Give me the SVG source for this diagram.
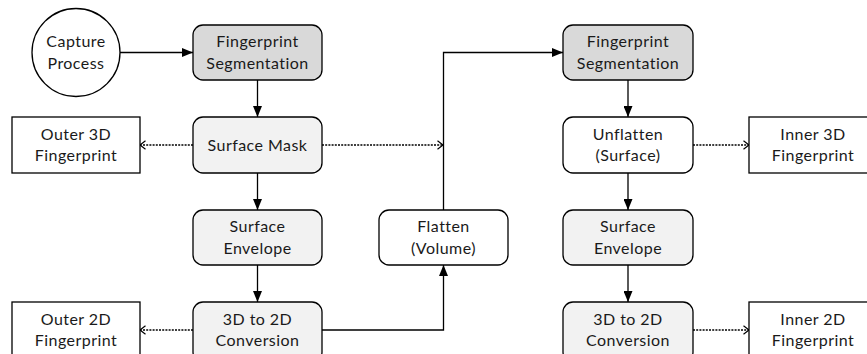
<svg xmlns="http://www.w3.org/2000/svg" width="867" height="354" viewBox="0 0 867 354">
<defs>
<style>
.n{stroke:#000;stroke-width:1.3}
.g{fill:#d9d9d9}
.l{fill:#f2f2f2}
.w{fill:#fff}
text{font-family:Lato,"Open Sans","Liberation Sans",sans-serif;font-size:16px;letter-spacing:0.45px;fill:#1a1a1a;text-anchor:middle}
.c{fill:none;stroke:#000;stroke-width:1.3}
.s{marker-end:url(#fa)}
.d{stroke-dasharray:2 1.2;marker-end:url(#oa)}
</style>
<marker id="fa" markerUnits="userSpaceOnUse" viewBox="0 0 11 9" refX="11" refY="4.5" markerWidth="11" markerHeight="9" orient="auto">
<path d="M0,0 L11,4.5 L0,9 z" fill="#000"/>
</marker>
<marker id="oa" markerUnits="userSpaceOnUse" viewBox="0 0 7 10" refX="6" refY="5" markerWidth="7" markerHeight="10" orient="auto">
<path d="M0.5,0.8 L6,5 L0.5,9.2" fill="none" stroke="#000" stroke-width="1.2"/>
</marker>
</defs>
<rect width="867" height="354" fill="#fff"/>
<g id="connectors">
<path class="c s" d="M119.5,52.5 H193"/>
<path class="c s" d="M257.5,80 V117"/>
<path class="c d" d="M193,145 H140"/>
<path class="c d" d="M322,145 H443"/>
<path class="c s" d="M257.5,173 V210"/>
<path class="c s" d="M257.5,265 V302"/>
<path class="c d" d="M193,330 H140"/>
<path class="c s" d="M322,330 H443.5 V265"/>
<path class="c s" d="M443.5,210 V52.5 H563"/>
<path class="c s" d="M628,80 V117"/>
<path class="c d" d="M693,145 H749"/>
<path class="c s" d="M628,173 V210"/>
<path class="c s" d="M628,265 V302"/>
<path class="c d" d="M693,330 H749"/>
</g>
<g id="capture">
<circle class="n w" cx="76" cy="52.5" r="44"/>
<text x="76" y="47">Capture</text>
<text x="76" y="68.5">Process</text>
</g>
<g id="seg1">
<rect class="n g" x="193" y="25" width="129" height="55" rx="10"/>
<text x="257.5" y="47">Fingerprint</text>
<text x="257.5" y="68.5">Segmentation</text>
</g>
<g id="outer3d">
<rect class="n w" x="12" y="117" width="128" height="56"/>
<text x="76" y="139.5">Outer 3D</text>
<text x="76" y="161">Fingerprint</text>
</g>
<g id="mask">
<rect class="n l" x="193" y="117" width="129" height="56" rx="10"/>
<text x="257.5" y="150.5">Surface Mask</text>
</g>
<g id="env1">
<rect class="n l" x="193" y="210" width="129" height="55" rx="10"/>
<text x="257.5" y="232">Surface</text>
<text x="257.5" y="253.5">Envelope</text>
</g>
<g id="outer2d">
<rect class="n w" x="12" y="302" width="128" height="60"/>
<text x="76" y="324.5">Outer 2D</text>
<text x="76" y="346">Fingerprint</text>
</g>
<g id="conv1">
<rect class="n l" x="193" y="302" width="129" height="60" rx="10"/>
<text x="257.5" y="324.5">3D to 2D</text>
<text x="257.5" y="346">Conversion</text>
</g>
<g id="flatten">
<rect class="n w" x="379" y="210" width="129" height="55" rx="10"/>
<text x="443.5" y="232">Flatten</text>
<text x="443.5" y="253.5">(Volume)</text>
</g>
<g id="seg2">
<rect class="n g" x="563" y="25" width="130" height="55" rx="10"/>
<text x="628" y="47">Fingerprint</text>
<text x="628" y="68.5">Segmentation</text>
</g>
<g id="unflatten">
<rect class="n w" x="563" y="117" width="130" height="56" rx="10"/>
<text x="628" y="139.5">Unflatten</text>
<text x="628" y="161">(Surface)</text>
</g>
<g id="inner3d">
<rect class="n w" x="749" y="117" width="128" height="56"/>
<text x="813" y="139.5">Inner 3D</text>
<text x="813" y="161">Fingerprint</text>
</g>
<g id="env2">
<rect class="n l" x="563" y="210" width="130" height="55" rx="10"/>
<text x="628" y="232">Surface</text>
<text x="628" y="253.5">Envelope</text>
</g>
<g id="conv2">
<rect class="n l" x="563" y="302" width="130" height="60" rx="10"/>
<text x="628" y="324.5">3D to 2D</text>
<text x="628" y="346">Conversion</text>
</g>
<g id="inner2d">
<rect class="n w" x="749" y="302" width="128" height="60"/>
<text x="813" y="324.5">Inner 2D</text>
<text x="813" y="346">Fingerprint</text>
</g>
</svg>
